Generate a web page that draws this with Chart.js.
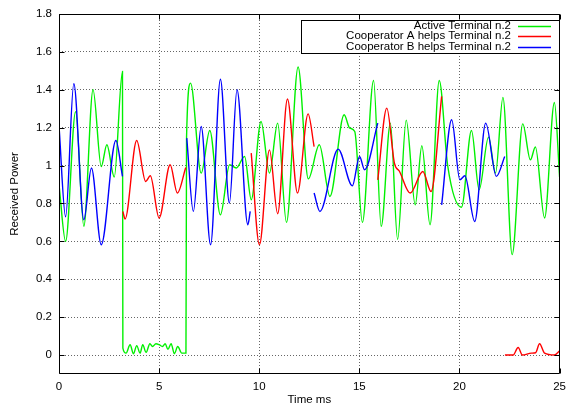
<!DOCTYPE html>
<html>
<head>
<meta charset="utf-8">
<script src="https://cdn.jsdelivr.net/npm/chart.js@4/dist/chart.umd.min.js"></script>
<style>
html,body{margin:0;padding:0;background:#fff;}
#wrap{width:572px;height:407px;}
</style>
</head>
<body>
<div id="wrap"><canvas id="c" width="572" height="407"></canvas></div>
<script>
// ---- data (time in ms, received power) ----
const seriesLabels = ['Active Terminal n.2', 'Cooperator A helps Terminal n.2', 'Cooperator B helps Terminal n.2'];

const activeTimes = [0, 0.33, 0.83, 1.24, 1.70, 2.11, 2.39, 2.76, 3.17, 3.19, 3.35, 3.55, 3.72, 3.88, 4.05, 4.18, 4.35, 4.54, 4.67, 4.84, 5.00, 5.17, 5.30, 5.44, 5.60, 5.76, 5.93, 6.13, 6.34, 6.37, 6.57, 7.10, 7.53, 8.06, 8.52, 8.85, 9.27, 9.60, 10.09, 10.51, 10.92, 11.36, 11.94, 12.45, 13.00, 13.53, 14.24, 14.52, 14.77, 15.15, 15.71, 16.09, 16.55, 16.91, 17.34, 17.79, 18.12, 18.53, 18.99, 19.41, 20.10, 20.60, 20.98, 21.45, 21.80, 22.17, 22.63, 23.16, 23.54, 23.79, 24.25, 24.74, 25.00];
const activeValues = [0.90, 0.60, 1.285, 0.68, 1.40, 0.995, 1.11, 0.94, 1.497, 0.037, 0.01, 0.054, 0.007, 0.05, 0.01, 0.054, 0.014, 0.06, 0.045, 0.06, 0.055, 0.045, 0.06, 0.03, 0.06, 0.007, 0.045, 0.01, 0.01, 1.15, 1.435, 0.96, 1.185, 0.74, 1.004, 0.987, 1.048, 0.82, 1.233, 0.96, 1.224, 0.70, 1.52, 0.93, 1.11, 0.837, 1.268, 1.198, 1.18, 0.70, 1.449, 0.68, 1.224, 0.61, 1.24, 0.793, 1.105, 0.688, 1.449, 1.00, 0.78, 1.185, 0.872, 1.15, 0.96, 1.36, 0.53, 1.22, 1.03, 1.098, 0.723, 1.333, 0.94];

const coopATimes = [3.19, 3.30, 3.88, 4.33, 4.56, 5.00, 5.55, 5.91, 6.33, 8.0, 9.60, 10.01, 10.51, 10.92, 11.41, 11.91, 12.44, 12.74, 14.0, 15.92, 16.37, 16.75, 17.00, 17.54, 18.17, 18.58, 19.11, 21.0, 22.27, 22.68, 22.93, 23.14, 23.59, 23.80, 24.00, 24.25, 24.74, 25.00];
const coopAValues = [0.758, 0.718, 1.132, 0.916, 0.946, 0.723, 1.004, 0.855, 0.99, null, 1.066, 0.582, 1.083, 0.746, 1.351, 0.855, 1.273, 1.10, null, 0.925, 1.303, 1.013, 0.97, 0.855, 0.969, 0.863, 1.365, null, 0.0, 0.0, 0.04, 0.0, 0.01, 0.012, 0.06, 0.01, 0.0, 0.023];

const coopBTimes = [0, 0.33, 0.74, 1.24, 1.62, 2.11, 2.84, 3.17, 5.0, 6.38, 6.71, 7.10, 7.57, 8.06, 8.51, 8.89, 9.43, 9.55, 11.0, 12.74, 13.03, 13.94, 14.65, 15.01, 15.26, 15.92, 17.5, 19.11, 19.61, 20.02, 20.27, 20.76, 21.31, 21.84, 22.26];
const coopBValues = [1.21, 0.73, 1.432, 0.714, 0.987, 0.582, 1.132, 0.943, null, 1.145, 0.758, 1.206, 0.582, 1.456, 0.802, 1.40, 0.688, 0.758, null, 0.855, 0.758, 1.087, 0.893, 1.048, 0.978, 1.224, null, 0.793, 1.242, 0.925, 0.946, 0.705, 1.224, 0.943, 1.048];

const xTickValues = [0, 5, 10, 15, 20, 25];
const yTickValues = [0, 0.2, 0.4, 0.6, 0.8, 1.0, 1.2, 1.4, 1.6, 1.8];

const seriesColors = ['#00f000', '#ff0000', '#0000ff'];

// ---- build ----
const toPts = (ts, vs) => ts.map((t, i) => ({x: t, y: vs[i]}));
const FONT = {family: "'Liberation Sans', Arial, Helvetica, sans-serif", size: 11.5};

const framePlugin = {
  id: 'frame',
  afterDatasetsDraw(chart) {
    const {ctx, chartArea: a, scales} = chart;
    const L = Math.floor(a.left) + 0.5, R = Math.round(a.right) - 0.5;
    const T = Math.floor(a.top) + 0.5, B = Math.round(a.bottom) - 0.5;
    ctx.save();
    ctx.strokeStyle = '#000';
    ctx.lineWidth = 1;
    ctx.beginPath();
    ctx.rect(L, T, R - L, B - T);
    const tl = 5;
    scales.x.ticks.forEach(tk => {
      const px = Math.round(scales.x.getPixelForValue(tk.value)) + 0.5;
      ctx.moveTo(px, B); ctx.lineTo(px, B - tl);
      ctx.moveTo(px, T); ctx.lineTo(px, T + tl);
    });
    scales.y.ticks.forEach(tk => {
      const py = Math.round(scales.y.getPixelForValue(tk.value)) + 0.5;
      ctx.moveTo(L, py); ctx.lineTo(L + tl, py);
      ctx.moveTo(R, py); ctx.lineTo(R - tl, py);
    });
    ctx.stroke();
    ctx.restore();
  }
};

const legendPlugin = {
  id: 'boxLegend',
  afterDraw(chart) {
    const {ctx} = chart;
    const bx = 301.5, by = 20.5, bw = 258, bh = 33;
    ctx.save();
    ctx.fillStyle = '#fff';
    ctx.fillRect(bx, by, bw, bh);
    ctx.strokeStyle = '#000';
    ctx.lineWidth = 1;
    ctx.strokeRect(bx, by, bw, bh);
    ctx.font = FONT.size + 'px ' + FONT.family;
    ctx.textAlign = 'right';
    ctx.textBaseline = 'middle';
    chart.data.datasets.forEach((ds, i) => {
      const y = 25.5 + i * 10.7;
      ctx.fillStyle = '#000';
      ctx.fillText(ds.label, 511, y);
      ctx.strokeStyle = ds.borderColor;
      ctx.lineWidth = 1.5;
      ctx.beginPath();
      ctx.moveTo(518, Math.round(y) + 0.5);
      ctx.lineTo(551, Math.round(y) + 0.5);
      ctx.stroke();
    });
    ctx.restore();
  }
};

new Chart(document.getElementById('c'), {
  type: 'line',
  data: {
    datasets: [
      {label: seriesLabels[0], data: toPts(activeTimes, activeValues), borderColor: seriesColors[0], order: 2},
      {label: seriesLabels[1], data: toPts(coopATimes, coopAValues), borderColor: seriesColors[1], order: 1},
      {label: seriesLabels[2], data: toPts(coopBTimes, coopBValues), borderColor: seriesColors[2], order: 0}
    ]
  },
  options: {
    responsive: false,
    animation: false,
    devicePixelRatio: 1,
    spanGaps: false,
    layout: {padding: {left: 0, right: 8, top: 14, bottom: 0}},
    plugins: {legend: {display: false}, tooltip: {enabled: false}},
    elements: {
      point: {radius: 0},
      line: {borderWidth: 1.4, cubicInterpolationMode: 'monotone', fill: false}
    },
    scales: {
      x: {
        type: 'linear', min: 0, max: 25,
        afterBuildTicks: s => { s.ticks = xTickValues.map(v => ({value: v})); },
        afterFit: s => { s.height = 33; },
        grid: {color: '#666', lineWidth: 1, drawTicks: false},
        border: {display: false, dash: [1, 2]},
        ticks: {padding: 6, color: '#000', font: FONT, maxRotation: 0, callback: v => String(v)},
        title: {display: true, text: 'Time ms', color: '#000', font: FONT, padding: {top: 0, bottom: 0}}
      },
      y: {
        type: 'linear', min: -0.1, max: 1.8,
        afterBuildTicks: s => { s.ticks = yTickValues.map(v => ({value: v})); },
        afterFit: s => { s.width = 59; },
        grid: {color: '#666', lineWidth: 1, drawTicks: false},
        border: {display: false, dash: [1, 2]},
        ticks: {padding: 7, color: '#000', font: FONT, callback: v => String(Number(Number(v).toFixed(1)))},
        title: {display: true, text: 'Received Power', color: '#000', font: FONT, padding: {top: 8, bottom: 0}}
      }
    }
  },
  plugins: [framePlugin, legendPlugin]
});
</script>
</body>
</html>
